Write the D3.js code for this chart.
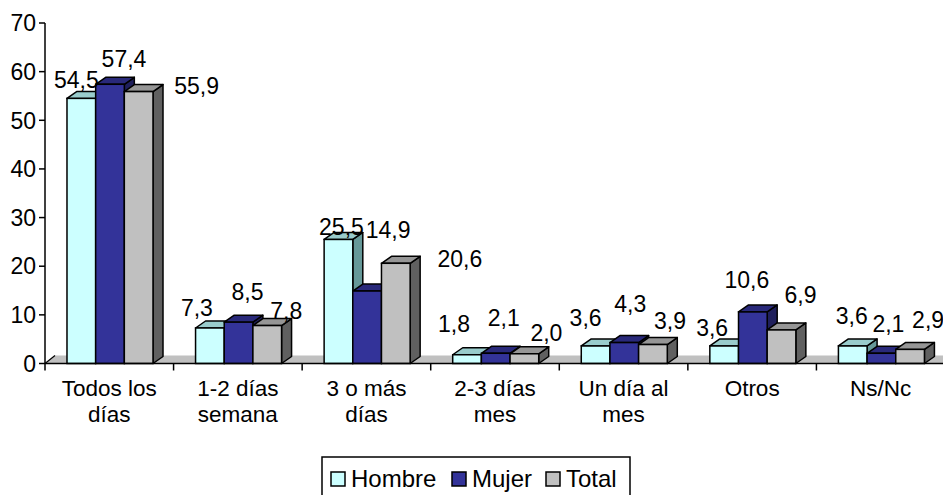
<!DOCTYPE html>
<html>
<head>
<meta charset="utf-8">
<script src="https://cdn.jsdelivr.net/npm/d3@7"></script>
<style>
  html, body { margin: 0; padding: 0; background: #fff; }
  svg { display: block; font-family: "Liberation Sans", Arial, sans-serif; }
</style>
</head>
<body>
<svg id="chart" width="943" height="495"></svg>
<script>
// Frequency categories (line breaks mark the two-line axis labels)
const categories = ["Todos los\ndías", "1-2 días\nsemana", "3 o más\ndías", "2-3 días\nmes", "Un día al\nmes", "Otros", "Ns/Nc"];
const seriesNames = ["Hombre", "Mujer", "Total"];
const hombre = [54.5, 7.3, 25.5, 1.8, 3.6, 3.6, 3.6];
const mujer  = [57.4, 8.5, 14.9, 2.1, 4.3, 10.6, 2.1];
const total  = [55.9, 7.8, 20.6, 2.0, 3.9, 6.9, 2.9];
const yTicks = [0, 10, 20, 30, 40, 50, 60, 70];

// Hand placement of the value labels relative to each bar's top-front centre
const labelNudge = {
  Hombre: [[-5,-19],[-13,-20],[3,-13],[-13,-31],[-10,-28],[-12,-18],[-1,-30]],
  Mujer:  [[14,-26],[9,-30],[21,-61],[8,-36],[6,-39],[-6,-32],[7,-30]],
  Total:  [[58,-6],[19,-15],[64,-5],[22,-21],[17,-24],[19,-35],[18,-30]]
};

// Face colours: front, top, side
const palette = {
  Hombre: ["#CCFFFF", "#99CCCC", "#669999"],
  Mujer:  ["#333399", "#29297A", "#1F1F5C"],
  Total:  ["#C0C0C0", "#969696", "#606060"]
};

(function draw() {
  const values = { Hombre: hombre, Mujer: mujer, Total: total };
  const svg = d3.select("#chart");
  const fontSize = 23;

  const plotLeft = 45, plotRight = 945, plotTop = 23, plotBottom = 363.5;
  const depthX = 10, depthY = 7;
  const floorX = 10, floorY = 8;

  const x = d3.scaleBand().domain(categories).range([plotLeft, plotRight]).padding(0);
  const bw = x.bandwidth();
  const xs = d3.scaleBand().domain(seriesNames)
    .range([0.171 * bw, 0.171 * bw + 0.669 * bw]).padding(0);
  const y = d3.scaleLinear().domain([0, 70]).range([plotBottom, plotTop]);

  // Floor
  svg.append("path")
    .attr("d", `M${plotLeft},${plotBottom} L${plotLeft + floorX},${plotBottom - floorY} L${plotRight + floorX},${plotBottom - floorY} L${plotRight},${plotBottom} Z`)
    .attr("fill", "#C0C0C0");
  svg.append("line")
    .attr("x1", plotLeft).attr("y1", plotBottom)
    .attr("x2", plotLeft + floorX).attr("y2", plotBottom - floorY)
    .attr("stroke", "#000").attr("stroke-width", 1.3);

  // 3D columns, drawn left to right so nearer faces cover farther ones
  const bars = [];
  categories.forEach((c, i) => {
    seriesNames.forEach(s => {
      bars.push({ cat: c, idx: i, series: s, value: values[s][i] });
    });
  });

  const g = svg.append("g");
  bars.forEach(b => {
    const x0 = x(b.cat) + xs(b.series);
    const x1 = x0 + xs.bandwidth();
    const y0 = y(0), y1 = y(b.value);
    const col = palette[b.series];
    const bar = g.append("g");
    bar.append("path")
      .attr("d", `M${x1},${y0} L${x1 + depthX},${y0 - depthY} L${x1 + depthX},${y1 - depthY} L${x1},${y1} Z`)
      .attr("fill", col[2]).attr("stroke", "#000").attr("stroke-width", 1.5).attr("stroke-linejoin", "round");
    bar.append("path")
      .attr("d", `M${x0},${y1} L${x0 + depthX},${y1 - depthY} L${x1 + depthX},${y1 - depthY} L${x1},${y1} Z`)
      .attr("fill", col[1]).attr("stroke", "#000").attr("stroke-width", 1.5).attr("stroke-linejoin", "round");
    bar.append("rect")
      .attr("x", x0).attr("y", y1).attr("width", x1 - x0).attr("height", y0 - y1)
      .attr("fill", col[0]).attr("stroke", "#000").attr("stroke-width", 1.5);
  });

  // Value axis
  const yAxis = svg.append("g");
  yAxis.append("line")
    .attr("x1", plotLeft).attr("x2", plotLeft).attr("y1", plotTop).attr("y2", plotBottom)
    .attr("stroke", "#000").attr("stroke-width", 1.5);
  yTicks.forEach(t => {
    yAxis.append("line")
      .attr("x1", plotLeft - 6).attr("x2", plotLeft).attr("y1", y(t)).attr("y2", y(t))
      .attr("stroke", "#000").attr("stroke-width", 1.5);
    yAxis.append("text")
      .attr("x", plotLeft - 9).attr("y", y(t)).attr("dy", "0.36em")
      .attr("text-anchor", "end").attr("font-size", fontSize)
      .text(t);
  });

  // Category axis
  const xAxis = svg.append("g");
  xAxis.append("line")
    .attr("x1", plotLeft).attr("x2", plotRight).attr("y1", plotBottom).attr("y2", plotBottom)
    .attr("stroke", "#000").attr("stroke-width", 1.5);
  categories.forEach(c => {
    xAxis.append("line")
      .attr("x1", x(c)).attr("x2", x(c)).attr("y1", plotBottom).attr("y2", plotBottom + 7)
      .attr("stroke", "#000").attr("stroke-width", 1.5);
    const t = xAxis.append("text")
      .attr("text-anchor", "middle").attr("font-size", 22.5);
    c.split("\n").forEach((line, k) => {
      t.append("tspan")
        .attr("x", x(c) + bw / 2)
        .attr("y", 395.5 + k * 26.5)
        .text(line);
    });
  });

  // Value labels
  const fmt = v => d3.format(".1f")(v).replace(".", ",");
  bars.forEach(b => {
    const cx = x(b.cat) + xs(b.series) + xs.bandwidth() / 2;
    const n = labelNudge[b.series][b.idx];
    svg.append("text")
      .attr("x", cx + n[0]).attr("y", y(b.value) + n[1]).attr("dy", "0.36em")
      .attr("text-anchor", "middle").attr("font-size", fontSize)
      .text(fmt(b.value));
  });

  // Legend
  const legend = svg.append("g");
  legend.append("rect")
    .attr("x", 322).attr("y", 457).attr("width", 308).attr("height", 45)
    .attr("fill", "#fff").attr("stroke", "#000").attr("stroke-width", 1.5);
  const legendX = [331, 452, 546];
  seriesNames.forEach((s, i) => {
    legend.append("rect")
      .attr("x", legendX[i]).attr("y", 472).attr("width", 14).attr("height", 14)
      .attr("fill", palette[s][0]).attr("stroke", "#000").attr("stroke-width", 1.5);
    legend.append("text")
      .attr("x", legendX[i] + 20).attr("y", 487)
      .attr("font-size", 24)
      .text(s);
  });
})();
</script>
</body>
</html>
